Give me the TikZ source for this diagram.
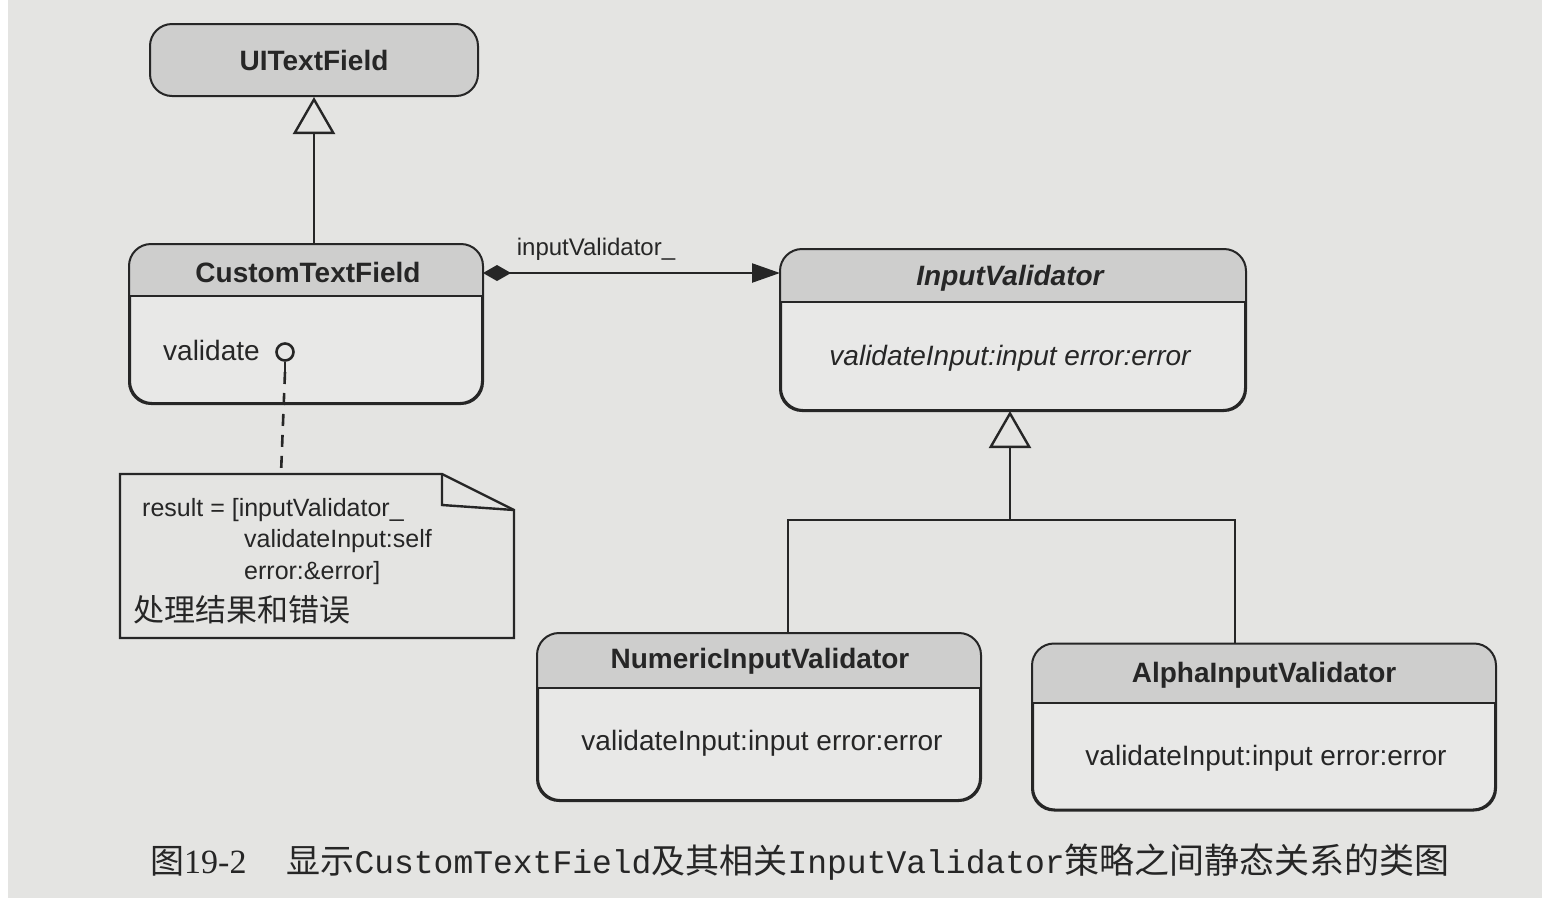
\documentclass[tikz,border=0pt]{standalone}
\usepackage{fontspec}
\setmainfont{Liberation Sans}
\newfontfamily\cjkf{Noto Sans CJK SC}
\newfontfamily\monof{Liberation Mono}
\newfontfamily\seriff{Liberation Serif}
\usetikzlibrary{arrows.meta}
\definecolor{page}{RGB}{228,228,226}
\definecolor{hdr}{RGB}{206,206,205}
\definecolor{body}{RGB}{232,232,231}
\definecolor{ink}{RGB}{38,38,38}
\newcommand\umlhead[2]{%
  \begin{scope}
    \clip[rounded corners=22pt] (#1.south west) rectangle (#1.north east);
    \fill[hdr] (#1.north west) rectangle (#1.east |- 0,#2);
  \end{scope}
  \draw[ink, line width=2pt] (#1.west |- 0,#2) -- (#1.east |- 0,#2);
  \draw[ink, line width=2pt, rounded corners=22pt] (#1.south west) rectangle (#1.north east);
}
\begin{document}
\begin{tikzpicture}[x=1pt,y=-1pt,
  box/.style={draw=ink, line width=2pt, rounded corners=22pt, fill=body, inner sep=0pt},
  title/.style={font=\fontsize{28}{32}\selectfont\bfseries, text=ink, inner sep=0pt},
  member/.style={font=\fontsize{28}{32}\selectfont, text=ink, inner sep=0pt},
  notetext/.style={font=\fontsize{25}{30}\selectfont, text=ink, inner sep=0pt, anchor=west},
  conn/.style={draw=ink, line width=2.4pt},
  ]
\fill[white] (0,0) rectangle (1548,906);
\fill[page] (8,0) rectangle (1542,898);
\useasboundingbox (0,0) rectangle (1548,906);

% classes
\node[box, fill=hdr, minimum width=328pt, minimum height=72pt] (uitf) at (314,60) {};
\node[title] (uitft) at (314,60) {UITextField};

\node[box, minimum width=352pt, minimum height=158pt] (ctf) at (306,324) {};
\umlhead{ctf}{296}
\node[title] (ctft) at (308,272) {CustomTextField};
\node[member, anchor=west] (ctfv) at (163,350) {validate};

\node[box, minimum width=464pt, minimum height=160pt] (iv) at (1013,330) {};
\umlhead{iv}{302}
\node[title, font=\fontsize{28}{32}\selectfont\bfseries\itshape] (ivt) at (1010,278) {InputValidator};
\node[member, font=\fontsize{28}{32}\selectfont\itshape] (ivm) at (1010,358) {validateInput:input error:error};

\node[box, minimum width=442pt, minimum height=166pt] (num) at (759,717) {};
\umlhead{num}{688}
\node[title] (numt) at (760,661) {NumericInputValidator};
\node[member] (numm) at (762,743) {validateInput:input error:error};

\node[box, minimum width=462pt, minimum height=165pt] (alpha) at (1264,727) {};
\umlhead{alpha}{703}
\node[title] (alphat) at (1264,675) {AlphaInputValidator};
\node[member] (alpham) at (1266,758) {validateInput:input error:error};

% note
\draw[ink, line width=2.4pt, fill=page] (120,474) -- (442,474) -- (514,510) -- (514,638) -- (120,638) -- cycle;
\draw[ink, line width=2.4pt] (442,474) -- (442,505) -- (514,510);
\coordinate (notetop) at (281,474);
\node[notetext] (n1) at (142,510) {result = [inputValidator\_};
\node[notetext] (n2) at (244,541) {validateInput:self};
\node[notetext] (n3) at (244,573) {error:\&error]};
\node[notetext, font=\fontsize{31}{34}\selectfont\cjkf] (n4) at (133,610) {处理结果和错误};

% lollipop + dashed link
\node[circle, draw=ink, line width=2.6pt, minimum size=17pt, inner sep=0pt] (lol) at (285,352) {};
\coordinate (lolend) at (285,372);
\draw[conn, line width=2.6pt] (lol.south) -- (lolend);
\draw[conn, line width=2.6pt, dash pattern=on 12pt off 9pt] (lolend) -- (notetop);

% generalization UITextField
\draw[conn, -{Triangle[open, length=37pt, width=42pt, line width=2.4pt]}] (uitf.south |- ctf.north) -- (uitf.south);

% composition
\draw[conn, {Diamond[length=28pt,width=16pt]}-{Triangle[length=28pt,width=19pt]}] (ctf.east |- 0,273) -- (iv.west |- 0,273);
\node[font=\fontsize{24}{28}\selectfont, text=ink, inner sep=0pt] (lbl) at (596,249) {inputValidator\_};

% generalization tree
\coordinate (j1) at (788,520);
\coordinate (j2) at (1235,520);
\coordinate (j0) at (1010,520);
\draw[conn] (num.north -| j1) -- (j1) -- (j2) -- (alpha.north -| j2);
\draw[conn, -{Triangle[open, length=37pt, width=42pt, line width=2.4pt]}] (j0) -- (iv.south -| j0);

% caption
\node[anchor=west, inner sep=0pt, text=ink] (cap) at (150,862) {%
  {\fontsize{34}{38}\selectfont\cjkf 图}{\fontsize{34}{38}\selectfont\seriff 19-2}\hspace{40pt}%
  {\fontsize{34}{38}\selectfont\cjkf 显示}{\fontsize{33}{38}\selectfont\monof CustomTextField}%
  {\fontsize{34}{38}\selectfont\cjkf 及其相关}{\fontsize{33}{38}\selectfont\monof InputValidator}%
  {\fontsize{35}{38}\selectfont\cjkf 策略之间静态关系的类图}};
\end{tikzpicture}
\end{document}
